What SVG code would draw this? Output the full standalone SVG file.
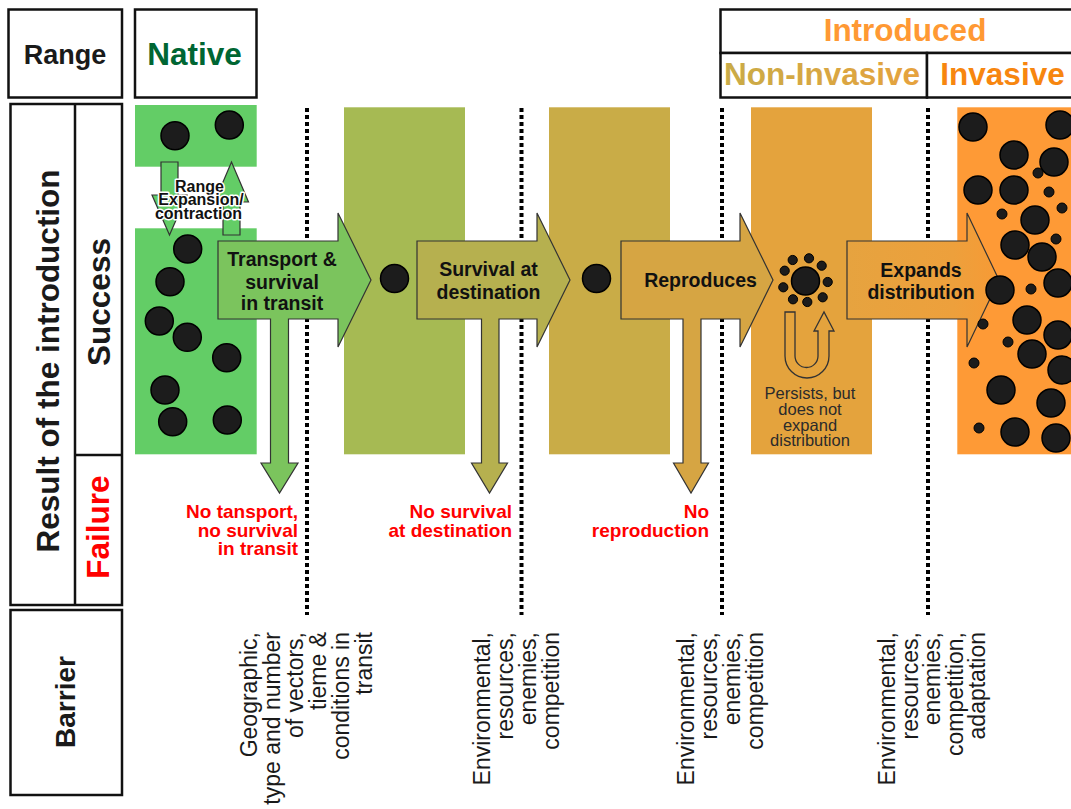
<svg xmlns="http://www.w3.org/2000/svg" width="1071" height="809" viewBox="0 0 1071 809">
<defs>
<style>
text{font-family:"Liberation Sans",Arial,sans-serif}
.box{fill:#fff;stroke:#111;stroke-width:2.5}
.hdr{font-weight:bold;font-size:31.5px;text-anchor:middle}
.side{font-weight:bold;font-size:31.5px;text-anchor:middle;fill:#1a1a1a}
.dot{fill:#1c1c1c;stroke:#000;stroke-width:1.5}
.sdot{fill:#1c1c1c;stroke:#000;stroke-width:1}
.barrier{stroke:#000;stroke-width:4;stroke-dasharray:4 3;fill:none}
.arr{stroke:#333;stroke-width:1.2;stroke-linejoin:miter}
.atxt{font-weight:bold;font-size:19.5px;text-anchor:middle;fill:#111}
.fail{font-weight:bold;font-size:19px;text-anchor:end;fill:#ff0000}
.btxt{font-size:23px;text-anchor:end;fill:#1a1a1a}
.halo{font-weight:bold;font-size:16px;text-anchor:middle;fill:#111;stroke:#fff;stroke-width:3;paint-order:stroke;stroke-linejoin:round}
</style>
<linearGradient id="gExp" x1="0" y1="0" x2="1" y2="0">
<stop offset="0" stop-color="#E6A33F"/>
<stop offset="0.7" stop-color="#EDA03C"/>
<stop offset="1" stop-color="#F79A35"/>
</linearGradient>
<linearGradient id="gNon" x1="0" y1="0" x2="1" y2="0">
<stop offset="0" stop-color="#C9AB47"/>
<stop offset="1" stop-color="#E6A23E"/>
</linearGradient>
</defs>
<rect width="1071" height="809" fill="#fff"/>

<g id="header-range"><rect class="box" x="8.5" y="9.5" width="113.5" height="88"/><text x="65" y="63.5" font-weight="bold" font-size="27" text-anchor="middle" fill="#1a1a1a">Range</text></g>
<g id="header-native"><rect class="box" x="135" y="9.5" width="121.5" height="88"/><text class="hdr" x="194.5" y="65" fill="#006633">Native</text></g>
<g id="header-introduced"><rect class="box" x="720.5" y="9.5" width="360" height="43.5"/><text class="hdr" x="905" y="41" fill="#FF9933">Introduced</text></g>
<g id="header-noninvasive"><rect class="box" x="720.5" y="53" width="206.5" height="44.5"/><text class="hdr" x="822" y="85" fill="url(#gNon)">Non-Invasive</text></g>
<g id="header-invasive"><rect class="box" x="927" y="53" width="160" height="44.5"/><text class="hdr" x="1002.5" y="85" fill="#F7860F">Invasive</text></g>

<g id="side-result"><rect class="box" x="10.5" y="104" width="111.5" height="501"/><line x1="75" y1="104" x2="75" y2="605" stroke="#111" stroke-width="2.5"/><line x1="75" y1="455" x2="122" y2="455" stroke="#111" stroke-width="2.5"/>
<text class="side" transform="translate(59,361) rotate(-90)">Result of the introduction</text>
<text class="side" transform="translate(110,302) rotate(-90)">Success</text>
<text class="side" transform="translate(109,527) rotate(-90)" style="fill:#ff0000">Failure</text></g>
<g id="side-barrier"><rect class="box" x="10.5" y="610" width="111.5" height="185"/><text transform="translate(75,702) rotate(-90)" font-weight="bold" font-size="28" text-anchor="middle" fill="#1a1a1a">Barrier</text></g>

<g id="bands">
<rect x="135" y="105" width="121.7" height="61.7" fill="#63CD66"/>
<rect x="135" y="228.3" width="121.7" height="226" fill="#63CD66"/>
<rect x="344" y="107.3" width="121" height="347" fill="#A6BA53"/>
<rect x="549" y="107.3" width="121" height="347" fill="#C9AC47"/>
<rect x="751" y="107.3" width="121" height="347" fill="#E4A33D"/>
<rect x="957.3" y="107.3" width="114" height="347" fill="#FE9A36"/>
</g>

<g id="barriers">
<line class="barrier" x1="307" y1="108" x2="307" y2="615"/>
<line class="barrier" x1="521.5" y1="108" x2="521.5" y2="615"/>
<line class="barrier" x1="722" y1="108" x2="722" y2="615"/>
<line class="barrier" x1="928" y1="108" x2="928" y2="615"/>
</g>

<g id="native-dots">
<circle class="dot" cx="175" cy="135.7" r="14"/>
<circle class="dot" cx="229.3" cy="125" r="14"/>
<circle class="dot" cx="187.7" cy="249" r="14"/>
<circle class="dot" cx="170" cy="281.7" r="14"/>
<circle class="dot" cx="159.3" cy="321" r="14"/>
<circle class="dot" cx="187.3" cy="337.3" r="14"/>
<circle class="dot" cx="226.7" cy="357.7" r="14"/>
<circle class="dot" cx="165" cy="390" r="14"/>
<circle class="dot" cx="172.7" cy="421.7" r="14"/>
<circle class="dot" cx="227.3" cy="420" r="14"/>
</g>

<g id="range-change">
<path class="arr" fill="#63CD66" d="M161,162 L178,162 L178,195 L187,195 L169.5,235 L152,195 L161,195 Z"/>
<path class="arr" fill="#63CD66" d="M223,235 L240,235 L240,202 L248.5,202 L231.5,162 L214.5,202 L223,202 Z"/>
<text class="halo"><tspan x="199.5" y="191.5">Range</tspan><tspan x="201" y="205">Expansion/</tspan><tspan x="198.5" y="218.5">contraction</tspan></text>
</g>

<g id="connectors">
<path id="arrow-transport" class="arr" fill="#7BC45D" d="M218,241 L338,241 L338,213 L371,280 L338,347 L338,319 L288.5,319 L288.5,463 L298,463 L279.5,493 L261,463 L270.5,463 L270.5,319 L218,319 Z"/>
<path id="arrow-survival" class="arr" fill="#B6B04F" d="M417,241 L537,241 L537,213 L570,280 L537,347 L537,319 L499,319 L499,463 L507.5,463 L489.5,493 L471.5,463 L481.5,463 L481.5,319 L417,319 Z"/>
<path id="arrow-reproduces" class="arr" fill="#D6A543" d="M621,241 L740,241 L740,213 L773,280 L740,347 L740,319 L701,319 L701,463 L708.5,463 L691,493 L673.5,463 L683,463 L683,319 L621,319 Z"/>
<path id="arrow-expands" class="arr" fill="url(#gExp)" d="M847,241 L967,241 L967,213 L999,280 L967,347 L967,319 L847,319 Z"/>
<path id="arrow-persists" fill="none" stroke="#333" stroke-width="1.3" d="M785,312 L795,312 L795,356 A11.5,11.5 0 0 0 818,356 L818,331 L814,331 L824,312 L834,331 L829,331 L829,356 A22,22 0 0 1 785,356 Z"/>
</g>

<g id="node-transport"><text class="atxt"><tspan x="282" y="266">Transport &amp;</tspan><tspan x="282" y="288.5">survival</tspan><tspan x="282" y="310">in transit</tspan></text></g>
<g id="node-stage1"><circle class="dot" cx="394.5" cy="278.5" r="14"/></g>
<g id="node-survival"><text class="atxt"><tspan x="488.5" y="276">Survival at</tspan><tspan x="488.5" y="299">destination</tspan></text></g>
<g id="node-stage2"><circle class="dot" cx="596.5" cy="278.5" r="14"/></g>
<g id="node-reproduces"><text class="atxt" x="700.5" y="287">Reproduces</text></g>
<g id="node-stage3">
<circle class="dot" cx="805.5" cy="281" r="14"/>
<circle class="sdot" cx="792.7" cy="260" r="4.6"/>
<circle class="sdot" cx="809" cy="258.3" r="4.6"/>
<circle class="sdot" cx="821.7" cy="265.7" r="4.6"/>
<circle class="sdot" cx="827.7" cy="282" r="4.6"/>
<circle class="sdot" cx="822.7" cy="297.3" r="4.6"/>
<circle class="sdot" cx="807.3" cy="302" r="4.6"/>
<circle class="sdot" cx="793" cy="299.3" r="4.6"/>
<circle class="sdot" cx="783.3" cy="287.3" r="4.6"/>
<circle class="sdot" cx="784.7" cy="270.7" r="4.6"/>
<text font-size="16.5" text-anchor="middle" fill="#2b2b2b"><tspan x="810" y="399">Persists, but</tspan><tspan x="810" y="415">does not</tspan><tspan x="810" y="430.5">expand</tspan><tspan x="810" y="446">distribution</tspan></text>
</g>
<g id="node-expands"><text class="atxt"><tspan x="921" y="277">Expands</tspan><tspan x="921" y="299">distribution</tspan></text></g>

<g id="invasive-dots">
<circle class="dot" cx="973" cy="127" r="14"/>
<circle class="dot" cx="1060" cy="125" r="14"/>
<circle class="dot" cx="1014" cy="155" r="14"/>
<circle class="dot" cx="1054" cy="162" r="14"/>
<circle class="dot" cx="978" cy="190" r="14"/>
<circle class="dot" cx="1014" cy="190" r="14"/>
<circle class="dot" cx="1035" cy="220" r="14"/>
<circle class="dot" cx="1015" cy="245" r="14"/>
<circle class="dot" cx="1042" cy="257" r="14"/>
<circle class="dot" cx="1000" cy="290" r="14"/>
<circle class="dot" cx="1058" cy="283" r="14"/>
<circle class="dot" cx="1027" cy="320" r="14"/>
<circle class="dot" cx="1058" cy="335" r="14"/>
<circle class="dot" cx="1032" cy="354" r="14"/>
<circle class="dot" cx="1062" cy="370" r="14"/>
<circle class="dot" cx="1001" cy="390" r="14"/>
<circle class="dot" cx="1051" cy="403" r="14"/>
<circle class="dot" cx="1015" cy="432" r="14"/>
<circle class="dot" cx="1056" cy="438" r="14"/>
<circle class="sdot" cx="1038" cy="173" r="5"/>
<circle class="sdot" cx="1049" cy="192" r="5"/>
<circle class="sdot" cx="1062" cy="208" r="5"/>
<circle class="sdot" cx="1002" cy="214" r="5"/>
<circle class="sdot" cx="1056" cy="239" r="5"/>
<circle class="sdot" cx="1031" cy="289" r="5"/>
<circle class="sdot" cx="983" cy="324" r="5"/>
<circle class="sdot" cx="1008" cy="342" r="5"/>
<circle class="sdot" cx="974" cy="363" r="5"/>
<circle class="sdot" cx="979" cy="428" r="5"/>
</g>

<g id="failure-labels">
<text class="fail"><tspan x="298" y="518">No tansport,</tspan><tspan x="298" y="536.5">no survival</tspan><tspan x="298" y="555">in transit</tspan></text>
<text class="fail"><tspan x="512" y="518">No survival</tspan><tspan x="512" y="536.5">at destination</tspan></text>
<text class="fail"><tspan x="709" y="518">No</tspan><tspan x="709" y="536.5">reproduction</tspan></text>
</g>

<g id="barrier-labels">
<text class="btxt" transform="translate(257,632) rotate(-90)"><tspan x="0" y="0">Geographic,</tspan><tspan x="0" dy="23">type and number</tspan><tspan x="0" dy="23">of vectors,</tspan><tspan x="0" dy="23">tieme &amp;</tspan><tspan x="0" dy="23">conditions in</tspan><tspan x="0" dy="23">transit</tspan></text>
<text class="btxt" transform="translate(490,632) rotate(-90)"><tspan x="0" y="0">Environmental,</tspan><tspan x="0" dy="23">resources,</tspan><tspan x="0" dy="23">enemies,</tspan><tspan x="0" dy="23">competition</tspan></text>
<text class="btxt" transform="translate(694,632) rotate(-90)"><tspan x="0" y="0">Environmental,</tspan><tspan x="0" dy="23">resources,</tspan><tspan x="0" dy="23">enemies,</tspan><tspan x="0" dy="23">competition</tspan></text>
<text class="btxt" transform="translate(895,632) rotate(-90)"><tspan x="0" y="0">Environmental,</tspan><tspan x="0" dy="22.5">resources,</tspan><tspan x="0" dy="22.5">enemies,</tspan><tspan x="0" dy="22.5">competition,</tspan><tspan x="0" dy="22.5">adaptation</tspan></text>
</g>
</svg>
